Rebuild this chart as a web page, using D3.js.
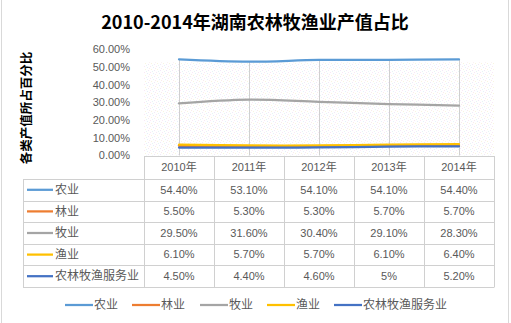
<!DOCTYPE html>
<html><head><meta charset="utf-8">
<script src="https://cdn.jsdelivr.net/npm/d3@7/dist/d3.min.js"></script>
<style>body{margin:0;background:#fff}svg{display:block}</style>
</head><body>
<script>
const years = ["2010年","2011年","2012年","2013年","2014年"];
const seriesNames = ["农业","林业","牧业","渔业","农林牧渔服务业"];
const nongye = [54.4, 53.1, 54.1, 54.1, 54.4];
const linye = [5.5, 5.3, 5.3, 5.7, 5.7];
const muye = [29.5, 31.6, 30.4, 29.1, 28.3];
const yuye = [6.1, 5.7, 5.7, 6.1, 6.4];
const fuwu = [4.5, 4.4, 4.6, 5, 5.2];
const tableText = [
  ["54.40%","53.10%","54.10%","54.10%","54.40%"],
  ["5.50%","5.30%","5.30%","5.70%","5.70%"],
  ["29.50%","31.60%","30.40%","29.10%","28.30%"],
  ["6.10%","5.70%","5.70%","6.10%","6.40%"],
  ["4.50%","4.40%","4.60%","5%","5.20%"]
];
const yTicks = [0,10,20,30,40,50,60];
const colors = ["#5B9BD5","#ED7D31","#A5A5A5","#FFC000","#4472C4"];
const allSeries = [nongye, linye, muye, yuye, fuwu];

const W = 511, H = 323;
const svg = d3.select("body").append("svg").attr("width", W).attr("height", H);
const FONT = "'Liberation Sans','Noto Sans CJK SC',sans-serif";
const CJK = "'Noto Sans CJK SC','Liberation Sans',sans-serif";
const GRAY = "#595959", GRID = "#d0d0d0";

svg.append("rect").attr("width", W).attr("height", H).attr("fill", "#fff");
svg.append("line").attr("x1",1.5).attr("x2",1.5).attr("y1",0).attr("y2",H).attr("stroke","#d9d9d9");
svg.append("line").attr("x1",508.5).attr("x2",508.5).attr("y1",0).attr("y2",H).attr("stroke","#d9d9d9");

svg.append("text").attr("x", 255).attr("y", 29).attr("text-anchor","middle")
  .attr("font-family", CJK).attr("font-weight","bold").attr("font-size", 18).attr("fill","#000")
  .text("2010-2014年湖南农林牧渔业产值占比");

svg.append("text").attr("transform","translate(31,108) rotate(-90)").attr("text-anchor","middle")
  .attr("font-family", CJK).attr("font-weight","bold").attr("font-size", 12.5).attr("fill","#000")
  .text("各类产值所占百分比");

const x = d3.scaleBand().domain(years).range([144, 494]);
const y = d3.scaleLinear().domain([0, 60]).range([155.5, 49.5]);

const defs = svg.append("defs");
const pat = defs.append("pattern").attr("id","tex").attr("width",6).attr("height",6).attr("patternUnits","userSpaceOnUse");
[[0,0,"#f6e2f4"],[3,1,"#e0ecf9"],[1,3,"#f7f3d8"],[4,4,"#eee4f6"],[2,5,"#e2f1f3"],[5,2,"#f8e6e8"]]
  .forEach(([px,py,c]) => pat.append("rect").attr("x",px).attr("y",py).attr("width",1).attr("height",1).attr("fill",c));
svg.append("rect").attr("x", x.range()[0]).attr("y", y(55)+4).attr("width", x.range()[1]-x.range()[0])
  .attr("height", y(0)-y(55)-4).attr("fill","url(#tex)").attr("opacity", 0.8);

svg.append("g").selectAll("text").data(yTicks).join("text")
  .attr("x", 130).attr("y", d => y(d)).attr("dy","0.35em").attr("text-anchor","end")
  .attr("font-family", FONT).attr("font-size", 11).attr("fill", GRAY)
  .text(d => d3.format(".2%")(d/100));

const cx = d => x(d) + x.bandwidth()/2;
svg.append("g").selectAll("line").data(years).join("line")
  .attr("x1", d => cx(d)+0.5).attr("x2", d => cx(d)+0.5)
  .attr("y1", (d,i) => y(d3.max(allSeries, s => s[i]))).attr("y2", y(0))
  .attr("stroke", GRID).attr("stroke-width", 1);

const line = d3.line().x((d,i) => cx(years[i])).y(d => y(d)).curve(d3.curveCatmullRom.alpha(0.5));
allSeries.forEach((s, k) => {
  svg.append("path").attr("d", line(s)).attr("fill","none").attr("stroke", colors[k])
    .attr("stroke-width", 2.25).attr("stroke-linecap","round");
});

const tTop = 156, hdrH = 23, rowH = 21.6, legLeft = 23;
const xL = x.range()[0], xR = x.range()[1];
const tbl = svg.append("g");
const rowY = i => tTop + hdrH + i*rowH;
tbl.append("line").attr("x1", xL).attr("x2", xR).attr("y1", tTop+0.5).attr("y2", tTop+0.5).attr("stroke", GRID);
for (let i = 0; i <= seriesNames.length; i++) {
  tbl.append("line").attr("x1", legLeft).attr("x2", xR).attr("y1", Math.round(rowY(i))+0.5).attr("y2", Math.round(rowY(i))+0.5).attr("stroke", GRID);
}
const colEdges = years.map(d => x(d)).concat([xR]);
colEdges.forEach(e => tbl.append("line").attr("x1", Math.round(e)+0.5).attr("x2", Math.round(e)+0.5)
  .attr("y1", tTop).attr("y2", Math.round(rowY(seriesNames.length))+0.5).attr("stroke", GRID));
tbl.append("line").attr("x1", legLeft+0.5).attr("x2", legLeft+0.5).attr("y1", rowY(0)).attr("y2", Math.round(rowY(seriesNames.length))+0.5).attr("stroke", GRID);
tbl.selectAll("text.h").data(years).join("text").attr("class","h")
  .attr("x", d => cx(d)).attr("y", tTop + hdrH/2).attr("dy","0.35em").attr("text-anchor","middle")
  .attr("font-family", FONT).attr("font-size", 11).attr("fill", GRAY).text(d => d);
seriesNames.forEach((nm, i) => {
  const yc = rowY(i) + rowH/2;
  tbl.append("line").attr("x1", 27).attr("x2", 53).attr("y1", yc).attr("y2", yc).attr("stroke", colors[i]).attr("stroke-width", 2.25);
  tbl.append("text").attr("x", 55).attr("y", yc).attr("dy","0.35em").attr("font-family", CJK).attr("font-size", 12).attr("fill", GRAY).text(nm);
  tableText[i].forEach((t, j) => {
    tbl.append("text").attr("x", cx(years[j])).attr("y", yc).attr("dy","0.35em").attr("text-anchor","middle")
      .attr("font-family", FONT).attr("font-size", 11).attr("fill", GRAY).text(t);
  });
});

const legX = [65, 132, 200, 267, 334];
const legY = 305;
seriesNames.forEach((nm, i) => {
  svg.append("line").attr("x1", legX[i]).attr("x2", legX[i]+28).attr("y1", legY).attr("y2", legY).attr("stroke", colors[i]).attr("stroke-width", 2.25);
  svg.append("text").attr("x", legX[i]+29).attr("y", legY).attr("dy","0.35em").attr("font-family", CJK).attr("font-size", 12).attr("fill", GRAY).text(nm);
});
</script>
</body></html>
